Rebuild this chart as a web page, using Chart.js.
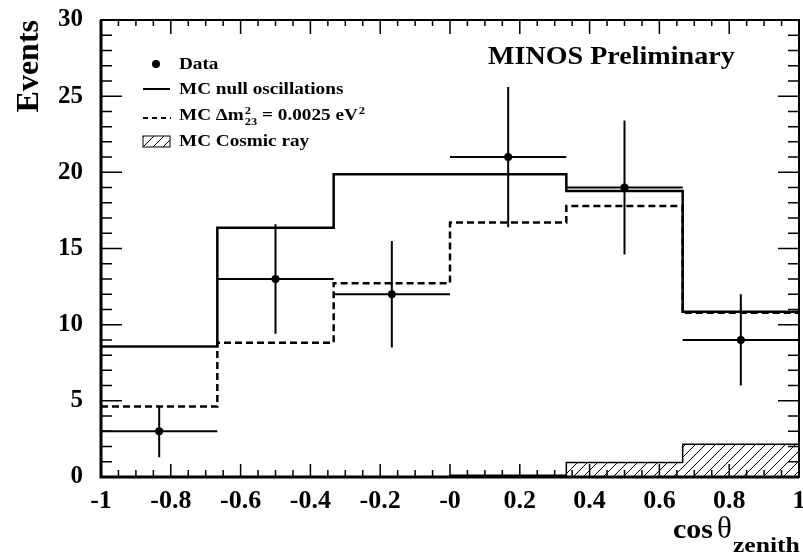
<!DOCTYPE html>
<html>
<head>
<meta charset="utf-8">
<script src="https://cdn.jsdelivr.net/npm/chart.js@4.4.1/dist/chart.umd.min.js"></script>
<style>
html,body{margin:0;padding:0;background:#fff;}
</style>
</head>
<body>
<canvas id="chart" width="803" height="554"></canvas>
<script>
// histogram bins in cos(theta_zenith)
const binEdges=[-1,-0.6667,-0.3333,0,0.3333,0.6667,1];
const binCenters=[-0.8333,-0.5,-0.1667,0.1667,0.5,0.8333];

// data with error bars
const dataEvents=[3,13,12,21,19,9];
const dataErrLow=[1.3,9.4,8.5,16.4,14.6,6.0];
const dataErrHigh=[4.7,16.6,15.5,25.6,23.4,12.0];

// MC predictions
const mcNull=[8.56,16.37,19.87,19.87,18.78,10.85];
const mcOsc=[4.62,8.82,12.72,16.70,17.79,10.79];
const mcCosmic=[0,0,0,0.12,0.96,2.15];

const xTickLabels=['-1','-0.8','-0.6','-0.4','-0.2','-0','0.2','0.4','0.6','0.8','1'];
const yTickLabels=['0','5','10','15','20','25','30'];

const FONT="'Liberation Serif','Times New Roman',serif";

function stepPoints(values){
  let pts=values.map((v,i)=>({x:binEdges[i],y:v}));
  pts.push({x:binEdges[binEdges.length-1],y:values[values.length-1]});
  return pts;
}

const ctx=document.getElementById("chart").getContext("2d");

function hatchPattern(){
  const c=document.createElement("canvas");
  c.width=10;c.height=10;
  const g=c.getContext("2d");
  g.strokeStyle="#000";
  g.lineWidth=1;
  g.beginPath();
  g.moveTo(-1,11);g.lineTo(11,-1);
  g.stroke();
  return ctx.createPattern(c,"repeat");
}

// stretched text helper (returns drawn width)
function txt(g,s,x,y,size,sx,weight){
  g.save();
  g.translate(x,y);
  g.scale(sx,1);
  g.font=(weight||"bold")+" "+size+"px "+FONT;
  g.fillStyle="#000";
  g.textBaseline="alphabetic";
  g.textAlign="left";
  g.fillText(s,0,0);
  const w=g.measureText(s).width*sx;
  g.restore();
  return w;
}

/* =====================
   Frame, ticks, error bars
===================== */
const framePlugin={
  id:"frame",
  afterDatasetsDraw(chart){
    const g=chart.ctx;
    const ca=chart.chartArea;
    const xs=chart.scales.x, ys=chart.scales.y;
    g.save();
    g.strokeStyle="#000";

    // error bars
    g.lineWidth=2;
    g.beginPath();
    for(let i=0;i<dataEvents.length;i++){
      const px=xs.getPixelForValue(binCenters[i]);
      g.moveTo(px,ys.getPixelForValue(dataErrLow[i]));
      g.lineTo(px,ys.getPixelForValue(dataErrHigh[i]));
      const py=ys.getPixelForValue(dataEvents[i]);
      g.moveTo(xs.getPixelForValue(binEdges[i]),py);
      g.lineTo(xs.getPixelForValue(binEdges[i+1]),py);
    }
    g.stroke();

    // ticks
    g.lineWidth=1.5;
    g.beginPath();
    for(let i=0;i<=40;i++){
      const px=xs.getPixelForValue(-1+i*0.05);
      const major=i%4===0;
      g.moveTo(px,ca.bottom);g.lineTo(px,ca.bottom-(major?13:7));
      g.moveTo(px,ca.top);g.lineTo(px,ca.top+(major?14:6));
    }
    for(let i=0;i<=30;i++){
      const py=ys.getPixelForValue(i);
      const major=i%5===0;
      g.moveTo(ca.left,py);g.lineTo(ca.left+(major?21:11),py);
      g.moveTo(ca.right,py);g.lineTo(ca.right-(major?21:11),py);
    }
    g.stroke();

    // frame
    g.lineWidth=2;
    g.strokeRect(ca.left,ca.top,ca.right-ca.left,ca.bottom-ca.top);
    g.lineWidth=3;
    g.beginPath();
    g.moveTo(ca.left,ca.top);g.lineTo(ca.left,ca.bottom);g.lineTo(ca.right,ca.bottom);
    g.stroke();
    g.restore();
  },
  afterDraw(chart){
    const g=chart.ctx;
    const ca=chart.chartArea;
    g.save();

    // legend
    const lx=ca.left+42, tx=ca.left+78, sx=1.13, fs=17;
    g.fillStyle="#000";
    g.beginPath();g.arc(ca.left+55,ca.top+44,4,0,Math.PI*2);g.fill();
    txt(g,"Data",tx,ca.top+49,fs,sx);

    g.strokeStyle="#000";
    g.lineWidth=2;
    g.beginPath();g.moveTo(lx,ca.top+69);g.lineTo(lx+27,ca.top+69);g.stroke();
    txt(g,"MC null oscillations",tx,ca.top+74,fs,sx);

    g.setLineDash([5,4]);
    g.beginPath();g.moveTo(lx,ca.top+98);g.lineTo(lx+28,ca.top+98);g.stroke();
    g.setLineDash([]);
    let x=tx, by=ca.top+100;
    x+=txt(g,"MC \u0394m",x,by,fs,sx);
    txt(g,"2",x+1,by-6,11,sx);
    x+=txt(g,"23",x+1,by+5,11,sx)+1;
    x+=txt(g," = 0.0025 eV",x,by,fs,sx);
    txt(g,"2",x+1,by-6,11,sx);

    g.lineWidth=1;
    g.fillStyle=hatchPattern();
    g.fillRect(lx,ca.top+116,27,11);
    g.strokeRect(lx,ca.top+116,27,11);
    g.fillStyle="#000";
    txt(g,"MC Cosmic ray",tx,ca.top+126,fs,sx);

    // label
    txt(g,"MINOS Preliminary",ca.left+387,ca.top+44,26,1.08);

    // x axis title
    txt(g,"cos",673,538,28,1.07);
    txt(g,"\u03b8",717,538,31,1.0,"normal");
    txt(g,"zenith",733,552,20,1.28);

    g.restore();
  }
};

/* =====================
   Chart
===================== */
const chart=new Chart(ctx,{
  type:"scatter",
  data:{
    datasets:[
      {
        label:"Data",
        data:binCenters.map((x,i)=>({x:x,y:dataEvents[i]})),
        pointRadius:4,
        pointBackgroundColor:"#000",
        pointBorderWidth:0,
        showLine:false
      },
      {
        type:"line",
        label:"MC null oscillations",
        data:stepPoints(mcNull),
        stepped:"before",
        borderColor:"#000",
        borderWidth:2.5,
        pointRadius:0,
        fill:false
      },
      {
        type:"line",
        label:"MC dm2",
        data:stepPoints(mcOsc),
        stepped:"before",
        borderColor:"#000",
        borderWidth:2.5,
        borderDash:[7,4],
        pointRadius:0,
        fill:false
      },
      {
        type:"line",
        label:"MC Cosmic ray",
        data:stepPoints(mcCosmic),
        stepped:"before",
        borderColor:"#000",
        borderWidth:1.5,
        backgroundColor:hatchPattern(),
        pointRadius:0,
        fill:"origin"
      }
    ]
  },
  options:{
    responsive:false,
    animation:false,
    layout:{padding:{top:20,right:2,left:0,bottom:0}},
    plugins:{legend:{display:false},tooltip:{enabled:false}},
    scales:{
      x:{
        type:"linear",min:-1,max:1,
        grid:{display:false},
        border:{display:false},
        ticks:{
          stepSize:0.2,autoSkip:false,maxRotation:0,padding:1,color:"#000",
          font:{family:FONT,size:26,weight:"bold"},
          callback:(v,i)=>xTickLabels[i]
        },
        afterFit:s=>{s.height=77;s.paddingLeft=0;s.paddingRight=0;}
      },
      y:{
        min:0,max:30,
        grid:{display:false},
        border:{display:false},
        ticks:{
          stepSize:5,padding:10,color:"#000",
          font:{family:FONT,size:25,weight:"bold"},
          callback:(v,i)=>yTickLabels[i]
        },
        title:{
          display:true,text:"Events",align:"end",color:"#000",
          font:{family:FONT,size:32,weight:"bold"},
          padding:{top:11,bottom:0}
        },
        afterFit:s=>{s.width=101;s.paddingTop=0;s.paddingBottom=0;}
      }
    }
  },
  plugins:[framePlugin]
});
</script>
</body>
</html>
